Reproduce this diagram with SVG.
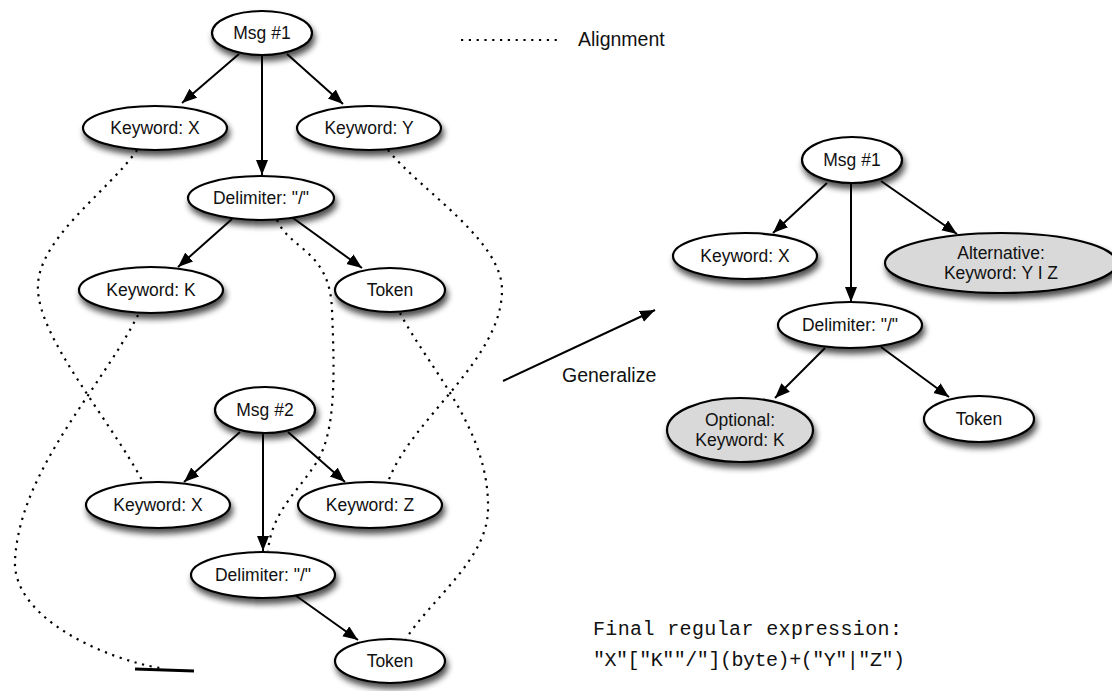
<svg xmlns="http://www.w3.org/2000/svg" width="1112" height="691" viewBox="0 0 1112 691">
<style>
.node ellipse{fill:#fff;stroke:#000;stroke-width:2.2;}
.node.gray ellipse{fill:#d9d9d9;}
.node text,.lbl{font-family:"Liberation Sans",Arial,sans-serif;font-size:17.5px;fill:#111;text-anchor:middle;}
.lbl{font-size:19.5px;text-anchor:start;}
.edge{stroke:#000;stroke-width:2;fill:none;marker-end:url(#arr);}
.align{stroke:#000;stroke-width:2.2;fill:none;stroke-dasharray:2.2 5.6;}
.mono{font-family:"Liberation Mono","Courier New",monospace;font-size:20px;fill:#111;}
</style>
<defs>
<marker id="arr" markerUnits="userSpaceOnUse" markerWidth="16" markerHeight="13" refX="15" refY="6" orient="auto">
<path d="M0,0 L15,6 L0,12 z" fill="#000"/>
</marker>
<filter id="sh" x="-20%" y="-30%" width="140%" height="180%">
<feGaussianBlur in="SourceAlpha" stdDeviation="3"/>
<feOffset dx="2" dy="5" result="b"/>
<feComponentTransfer><feFuncA type="linear" slope="0.7"/></feComponentTransfer>
<feMerge><feMergeNode/><feMergeNode in="SourceGraphic"/></feMerge>
</filter>
</defs>
<rect width="1112" height="691" fill="#fff"/>

<g id="connectors">
<line class="edge" x1="239" y1="54" x2="182" y2="103"/>
<line class="edge" x1="262" y1="55" x2="262" y2="175"/>
<line class="edge" x1="287" y1="54" x2="343" y2="104"/>
<line class="edge" x1="232" y1="219" x2="178" y2="267"/>
<line class="edge" x1="293" y1="218" x2="362" y2="268"/>
<line class="edge" x1="240" y1="432" x2="184" y2="482"/>
<line class="edge" x1="263" y1="433" x2="263" y2="551"/>
<line class="edge" x1="288" y1="432" x2="345" y2="482"/>
<line class="edge" x1="295" y1="595" x2="358" y2="640"/>
<path class="align" d="M137,150 C110,190 35,240 38,290 C40,340 110,420 143,482"/>
<path class="align" d="M138,315 C100,390 20,470 15,560 C12,620 110,660 160,668"/>
<path class="align" d="M277,220 C290,250 330,250 332,310 C335,380 335,430 318,460 C300,490 272,510 268,551"/>
<path class="align" d="M388,150 C420,190 502,240 502,290 C502,360 410,420 388,482"/>
<path class="align" d="M400,313 C430,370 490,430 488,510 C487,560 430,600 406,639"/>
<line x1="135" y1="669" x2="194" y2="671" stroke="#000" stroke-width="3"/>
<line class="align" x1="461" y1="40" x2="560" y2="40"/>
<line class="edge" x1="503" y1="381" x2="655" y2="310"/>
<line class="edge" x1="827" y1="183" x2="773" y2="233"/>
<line class="edge" x1="851" y1="183" x2="851" y2="302"/>
<line class="edge" x1="881" y1="181" x2="957" y2="234"/>
<line class="edge" x1="825" y1="348" x2="775" y2="398"/>
<line class="edge" x1="881" y1="347" x2="949" y2="397"/>
</g>

<g id="l-msg1" class="node"><ellipse cx="262" cy="33" rx="50" ry="22" filter="url(#sh)"/><text x="262" y="39">Msg #1</text></g>
<g id="l-kwx1" class="node"><ellipse cx="155" cy="128" rx="72" ry="22" filter="url(#sh)"/><text x="155" y="134">Keyword: X</text></g>
<g id="l-kwy" class="node"><ellipse cx="369" cy="128" rx="72" ry="22" filter="url(#sh)"/><text x="369" y="134">Keyword: Y</text></g>
<g id="l-delim1" class="node"><ellipse cx="261" cy="198" rx="73" ry="22" filter="url(#sh)"/><text x="261" y="204">Delimiter: "/"</text></g>
<g id="l-kwk" class="node"><ellipse cx="151" cy="290" rx="72" ry="23" filter="url(#sh)"/><text x="151" y="296">Keyword: K</text></g>
<g id="l-token1" class="node"><ellipse cx="390" cy="290" rx="55" ry="22" filter="url(#sh)"/><text x="390" y="296">Token</text></g>
<g id="l-msg2" class="node"><ellipse cx="265" cy="410" rx="50" ry="23" filter="url(#sh)"/><text x="265" y="416">Msg #2</text></g>
<g id="l-kwx2" class="node"><ellipse cx="158" cy="505" rx="72" ry="23" filter="url(#sh)"/><text x="158" y="511">Keyword: X</text></g>
<g id="l-kwz" class="node"><ellipse cx="370" cy="505" rx="72" ry="23" filter="url(#sh)"/><text x="370" y="511">Keyword: Z</text></g>
<g id="l-delim2" class="node"><ellipse cx="263" cy="575" rx="72" ry="23" filter="url(#sh)"/><text x="263" y="581">Delimiter: "/"</text></g>
<g id="l-token2" class="node"><ellipse cx="390" cy="661" rx="55" ry="22" filter="url(#sh)"/><text x="390" y="667">Token</text></g>

<g id="r-msg1" class="node"><ellipse cx="852" cy="160" rx="50" ry="23" filter="url(#sh)"/><text x="852" y="166">Msg #1</text></g>
<g id="r-kwx" class="node"><ellipse cx="745" cy="256" rx="72" ry="23" filter="url(#sh)"/><text x="745" y="262">Keyword: X</text></g>
<g id="r-alt" class="node gray"><ellipse cx="1001" cy="263" rx="116" ry="30" filter="url(#sh)"/><text x="1001" y="259">Alternative:</text><text x="1001" y="279">Keyword: Y I Z</text></g>
<g id="r-delim" class="node"><ellipse cx="850" cy="325" rx="72" ry="23" filter="url(#sh)"/><text x="850" y="331">Delimiter: "/"</text></g>
<g id="r-opt" class="node gray"><ellipse cx="740" cy="430" rx="73" ry="32" filter="url(#sh)"/><text x="740" y="426">Optional:</text><text x="740" y="446">Keyword: K</text></g>
<g id="r-token" class="node"><ellipse cx="979" cy="419" rx="55" ry="23" filter="url(#sh)"/><text x="979" y="425">Token</text></g>

<g id="labels">
<text class="lbl" x="578" y="46">Alignment</text>
<text class="lbl" x="562" y="382">Generalize</text>
<text class="mono" x="593" y="635" textLength="309">Final regular expression:</text>
<text class="mono" x="593" y="666" textLength="312">"X"["K""/"](byte)+("Y"|"Z")</text>
</g>
</svg>
